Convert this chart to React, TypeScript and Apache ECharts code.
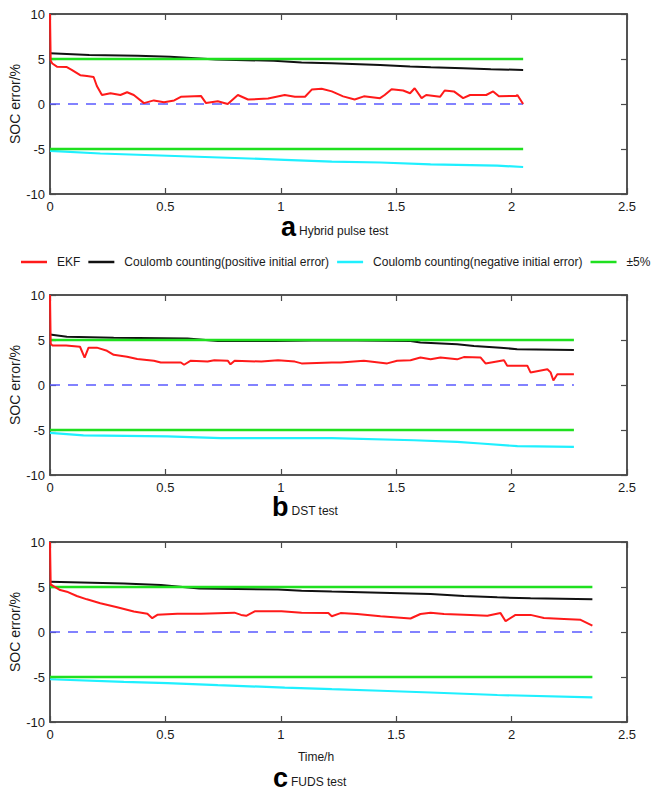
import React, { useEffect, useRef } from "react";
import * as echarts from "echarts";

// ---- data ----
const xMin = 0;
const xMax = 2.5;
const xInterval = 0.5;
const yMin = -10;
const yMax = 10;
const yInterval = 5;

const seriesNames = [
  "EKF",
  "Coulomb counting(positive initial error)",
  "Coulomb counting(negative initial error)",
  "±5%",
];

const captionLetters = ["a", "b", "c"];
const captionTexts = ["Hybrid pulse test", "DST test", "FUDS test"];
const testEnd = [2.05, 2.27, 2.35];
const bound = 5;

const ekfA = [[0,10],[0.003,4.8],[0.01,4.5],[0.03,4.15],[0.073,4.1],[0.094,3.8],[0.131,3.2],[0.16,3.1],[0.189,3.0],[0.203,2.0],[0.225,1.0],[0.262,1.2],[0.305,1.0],[0.334,1.3],[0.363,1.0],[0.407,0.1],[0.45,0.4],[0.494,0.2],[0.538,0.4],[0.567,0.8],[0.654,0.9],[0.676,0.1],[0.727,0.3],[0.77,0.0],[0.814,1.0],[0.858,0.5],[0.945,0.6],[1.017,1.0],[1.061,0.8],[1.105,0.8],[1.134,1.6],[1.177,1.7],[1.221,1.4],[1.27,0.85],[1.32,0.5],[1.36,0.85],[1.43,0.65],[1.45,1.0],[1.48,1.65],[1.53,1.5],[1.56,1.2],[1.58,1.75],[1.61,0.65],[1.63,1.0],[1.69,0.8],[1.71,1.5],[1.75,1.4],[1.79,0.65],[1.82,1.0],[1.89,1.0],[1.92,1.4],[1.945,0.85],[2.02,0.9],[2.025,1.0],[2.05,0.0]];
const ekfB = [[0,10],[0.003,4.6],[0.01,4.4],[0.07,4.4],[0.13,4.25],[0.15,3.05],[0.167,4.15],[0.203,4.15],[0.247,3.8],[0.276,3.35],[0.334,3.15],[0.378,2.9],[0.45,2.7],[0.48,2.5],[0.567,2.5],[0.581,2.25],[0.61,2.7],[0.683,2.6],[0.712,2.75],[0.77,2.7],[0.782,2.3],[0.8,2.7],[0.916,2.6],[0.988,2.75],[1.061,2.6],[1.09,2.4],[1.221,2.5],[1.259,2.5],[1.36,2.7],[1.461,2.4],[1.504,2.7],[1.562,2.75],[1.605,3.05],[1.649,2.85],[1.692,3.05],[1.764,2.85],[1.793,3.1],[1.866,3.05],[1.887,2.4],[1.967,2.75],[1.981,2.15],[2.068,2.15],[2.082,1.4],[2.155,1.75],[2.169,1.4],[2.181,0.5],[2.198,1.2],[2.27,1.2]];
const ekfC = [[0,10],[0.003,5.3],[0.015,5.1],[0.044,4.66],[0.073,4.48],[0.116,4.0],[0.16,3.63],[0.218,3.19],[0.291,2.75],[0.363,2.28],[0.422,2.02],[0.443,1.54],[0.465,1.91],[0.552,2.02],[0.654,2.02],[0.799,2.15],[0.828,1.9],[0.85,1.8],[0.887,2.3],[1.003,2.3],[1.09,2.15],[1.206,2.1],[1.221,1.75],[1.259,2.1],[1.331,2.0],[1.432,1.75],[1.562,1.5],[1.605,2.0],[1.649,2.15],[1.707,2.0],[1.822,1.9],[1.895,1.8],[1.952,2.1],[1.974,1.2],[2.017,1.9],[2.082,1.9],[2.14,1.55],[2.227,1.45],[2.299,1.35],[2.35,0.7]];

const posA = [[0,5.65],[0.17,5.45],[0.38,5.35],[0.52,5.25],[0.72,4.95],[0.97,4.8],[1.09,4.6],[1.22,4.53],[1.43,4.34],[1.56,4.16],[1.65,4.08],[1.79,3.97],[1.91,3.86],[2.05,3.79]];
const posB = [[0,5.6],[0.073,5.35],[0.276,5.26],[0.596,5.18],[0.727,4.9],[0.974,4.9],[1.215,4.96],[1.562,4.89],[1.605,4.71],[1.764,4.52],[1.837,4.34],[1.952,4.15],[2.024,3.97],[2.27,3.9]];
const posC = [[0,5.58],[0.32,5.39],[0.48,5.21],[0.647,4.84],[0.988,4.73],[1.09,4.59],[1.221,4.5],[1.432,4.37],[1.649,4.22],[1.793,4.0],[1.938,3.85],[2.082,3.74],[2.35,3.63]];

const negA = [[0,-5.2],[0.218,-5.5],[0.509,-5.75],[0.8,-6.0],[1.017,-6.2],[1.221,-6.4],[1.432,-6.5],[1.649,-6.7],[1.938,-6.85],[2.05,-7.0]];
const negB = [[0,-5.33],[0.145,-5.59],[0.509,-5.7],[0.741,-5.9],[1.221,-5.9],[1.577,-6.14],[1.764,-6.32],[1.866,-6.5],[2.025,-6.8],[2.27,-6.88]];
const negC = [[0,-5.25],[0.32,-5.54],[0.509,-5.69],[0.727,-5.91],[1.017,-6.17],[1.221,-6.35],[1.432,-6.53],[1.649,-6.72],[1.938,-7.0],[2.35,-7.26]];

const ekfAll = [ekfA, ekfB, ekfC];
const posAll = [posA, posB, posC];
const negAll = [negA, negB, negC];

// ---- style ----
const FONT = "'Liberation Sans', Arial, sans-serif";
const AXIS_COLOR = "#4a4a4a";
const COL_EKF = "#ff1a1a";
const COL_POS = "#111111";
const COL_NEG = "#1ff0ff";
const COL_BND = "#1fe01f";
const COL_ZERO = "#5a5aff";
const gridTops = [14, 295, 542];
const GRID_LEFT = 50;
const GRID_W = 577;
const GRID_H = 180;

function axLine() {
  return { show: true, onZero: false, lineStyle: { color: AXIS_COLOR, width: 1.5 } };
}
function tick() {
  return { show: true, inside: true, length: 6, lineStyle: { color: AXIS_COLOR, width: 1.2 } };
}

function buildOption() {
  const grids: any[] = [];
  const xAxes: any[] = [];
  const yAxes: any[] = [];
  const series: any[] = [];
  const titles: any[] = [];

  for (let i = 0; i < 3; i++) {
    grids.push({
      left: GRID_LEFT, top: gridTops[i], width: GRID_W, height: GRID_H,
      containLabel: false, outerBoundsMode: "none",
      show: true, borderColor: AXIS_COLOR, borderWidth: 1.5, backgroundColor: "transparent",
    });
    xAxes.push({
      type: "value", gridIndex: i, position: "bottom", min: xMin, max: xMax, interval: xInterval,
      axisLine: axLine(), axisTick: tick(), splitLine: { show: false },
      axisLabel: { fontFamily: FONT, fontSize: 13, color: "#1a1a1a", margin: 6 },
      ...(i === 2
        ? { name: "Time/h", nameLocation: "middle", nameGap: 29, nameMoveOverlap: false,
            nameTextStyle: { fontFamily: FONT, fontSize: 12, color: "#1a1a1a", padding: [0, 45, 0, 0] } }
        : {}),
    });
    xAxes.push({
      show: true, type: "value", gridIndex: i, position: "top", min: xMin, max: xMax, interval: xInterval,
      axisLine: axLine(), axisTick: tick(), splitLine: { show: false }, axisLabel: { show: false },
    });
    yAxes.push({
      type: "value", gridIndex: i, position: "left", min: yMin, max: yMax, interval: yInterval,
      axisLine: axLine(), axisTick: tick(), splitLine: { show: false },
      axisLabel: { fontFamily: FONT, fontSize: 13, color: "#1a1a1a", margin: 5 },
      name: "SOC error/%", nameLocation: "middle", nameGap: 28, nameMoveOverlap: false,
      nameTextStyle: { fontFamily: FONT, fontSize: 14, color: "#1a1a1a" },
    });
    yAxes.push({
      show: true, type: "value", gridIndex: i, position: "right", min: yMin, max: yMax, interval: yInterval,
      axisLine: axLine(), axisTick: tick(), splitLine: { show: false }, axisLabel: { show: false },
    });

    const xi = 2 * i;
    const yi = 2 * i;
    const base = { type: "line", xAxisIndex: xi, yAxisIndex: yi, symbol: "none", silent: true };
    const end = testEnd[i];
    series.push({ ...base, name: "zero", data: [[0, 0], [end, 0]],
      lineStyle: { color: COL_ZERO, width: 1.5, type: [10, 8] }, color: COL_ZERO });
    series.push({ ...base, name: seriesNames[2], data: negAll[i], lineStyle: { color: COL_NEG, width: 2.2 }, color: COL_NEG });
    series.push({ ...base, name: seriesNames[1], data: posAll[i], lineStyle: { color: COL_POS, width: 2 }, color: COL_POS });
    series.push({ ...base, name: seriesNames[3], data: [[0, bound], [end, bound]], lineStyle: { color: COL_BND, width: 2.5 }, color: COL_BND });
    series.push({ ...base, name: seriesNames[3], data: [[0, -bound], [end, -bound]], lineStyle: { color: COL_BND, width: 2.5 }, color: COL_BND });
    series.push({ ...base, name: seriesNames[0], data: ekfAll[i], lineStyle: { color: COL_EKF, width: 2 }, color: COL_EKF });
    // invisible carriers binding the mirror axes (top / right) so they get drawn
    series.push({ type: "line", xAxisIndex: xi + 1, yAxisIndex: yi + 1, symbol: "none", silent: true,
      data: [[xMin, yMin], [xMax, yMax]], lineStyle: { opacity: 0 }, tooltip: { show: false } });
  }

  const capLeft = [281, 272, 273];
  const capTop = [213, 493, 764];
  for (let i = 0; i < 3; i++) {
    titles.push({
      text: `{l|${captionLetters[i]}}{t|${captionTexts[i]}}`,
      left: capLeft[i], top: capTop[i], padding: 0,
      textStyle: {
        rich: {
          l: { fontFamily: FONT, fontWeight: "bold", fontSize: 27, color: "#000", verticalAlign: "bottom", padding: [0, 3, 0, 0] },
          t: { fontFamily: FONT, fontWeight: "normal", fontSize: 12, color: "#1a1a1a", verticalAlign: "bottom", padding: [0, 0, 3, 0] },
        },
      },
    });
  }

  return {
    animation: false,
    backgroundColor: "#fff",
    title: titles,
    grid: grids,
    xAxis: xAxes,
    yAxis: yAxes,
    legend: {
      data: seriesNames,
      left: 21, top: 256, width: 641, padding: 0,
      icon: "rect",
      itemWidth: 26, itemHeight: 2.5, itemGap: 8,
      textStyle: { fontFamily: FONT, fontSize: 12, color: "#1a1a1a", padding: [0, 0, 0, 5] },
      selectedMode: false,
    },
    series,
  };
}

export default function App() {
  const ref = useRef<HTMLDivElement>(null);
  useEffect(() => {
    if (!ref.current) return;
    const chart = echarts.init(ref.current, undefined, { renderer: "svg" });
    chart.setOption(buildOption() as any);
    return () => chart.dispose();
  }, []);
  return (
    <div
      ref={ref}
      style={{ position: "fixed", left: 0, top: 0, width: 662, height: 792, background: "#fff" }}
    />
  );
}
